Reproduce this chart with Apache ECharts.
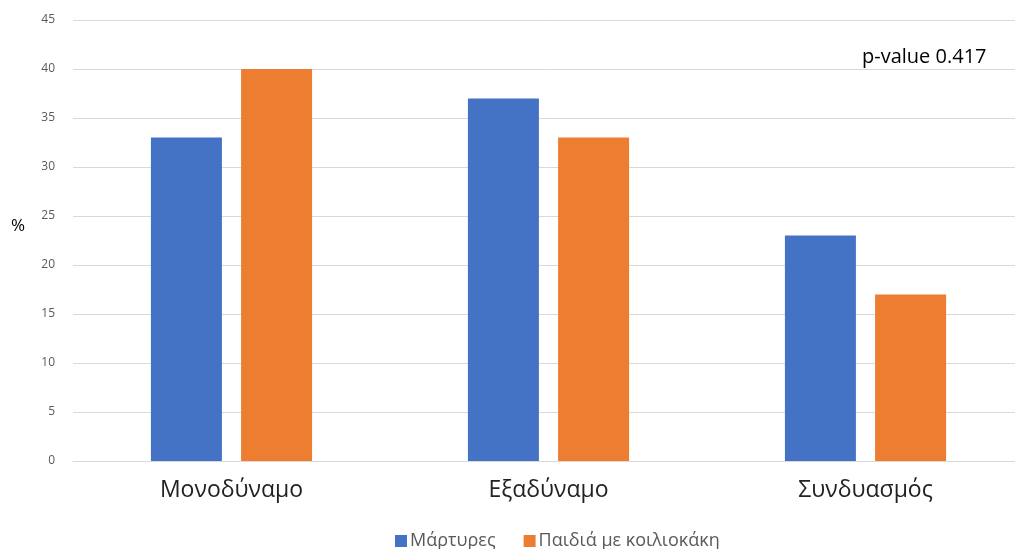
<!DOCTYPE html>
<html><head><meta charset="utf-8">
<script src="https://cdn.jsdelivr.net/npm/echarts@6/dist/echarts.min.js"></script>
<style>html,body{margin:0;padding:0;background:#fff;overflow:hidden}#c{width:1025px;height:549px}</style>
</head><body><div id="c"></div>
<script>
const categories = ['Μονοδύναμο', 'Εξαδύναμο', 'Συνδυασμός'];
const seriesNames = ['Μάρτυρες', 'Παιδιά με κοιλιοκάκη'];
const martyres = [33, 37, 23];
const paidia = [40, 33, 17];
const yTicks = [0, 5, 10, 15, 20, 25, 30, 35, 40, 45];
const annotation = 'p-value 0.417';

const chart = echarts.init(document.getElementById('c'));
const font = '"Open Sans", "Noto Sans", sans-serif';
chart.setOption({
  animation: false,
  textStyle: { fontFamily: font },
  grid: { left: 73, right: 1, top: 20, bottom: 88 },
  legend: {
    data: seriesNames, top: 527, left: 390,
    itemWidth: 12, itemHeight: 12, itemGap: 28, icon: 'rect',
    textStyle: { fontSize: 18, color: '#595959', fontFamily: font, padding: [0, 0, 0, -2] }
  },
  graphic: [
    { type: 'text', left: 862, top: 47, style: { text: annotation, fontSize: 20, fill: '#000', fontFamily: font } },
    { type: 'text', left: 11, top: 218, style: { text: '%', fontSize: 17, fill: '#000', fontFamily: font } }
  ],
  xAxis: {
    type: 'category', data: categories,
    axisLine: { lineStyle: { color: '#d9d9d9' } },
    axisTick: { show: false },
    axisLabel: { fontSize: 23, color: '#222', margin: 18, fontFamily: font }
  },
  yAxis: {
    type: 'value', min: yTicks[0], max: yTicks[yTicks.length - 1], interval: 5,
    axisLine: { show: false }, axisTick: { show: false },
    axisLabel: { fontSize: 12, color: '#595959', margin: 18, fontFamily: font },
    splitLine: { lineStyle: { color: '#d9d9d9' } }
  },
  series: [
    { name: seriesNames[0], type: 'bar', data: martyres, barWidth: 71, barGap: '27%', itemStyle: { color: '#4472C4' } },
    { name: seriesNames[1], type: 'bar', data: paidia, barWidth: 71, itemStyle: { color: '#ED7D31' } }
  ]
});
</script></body></html>
